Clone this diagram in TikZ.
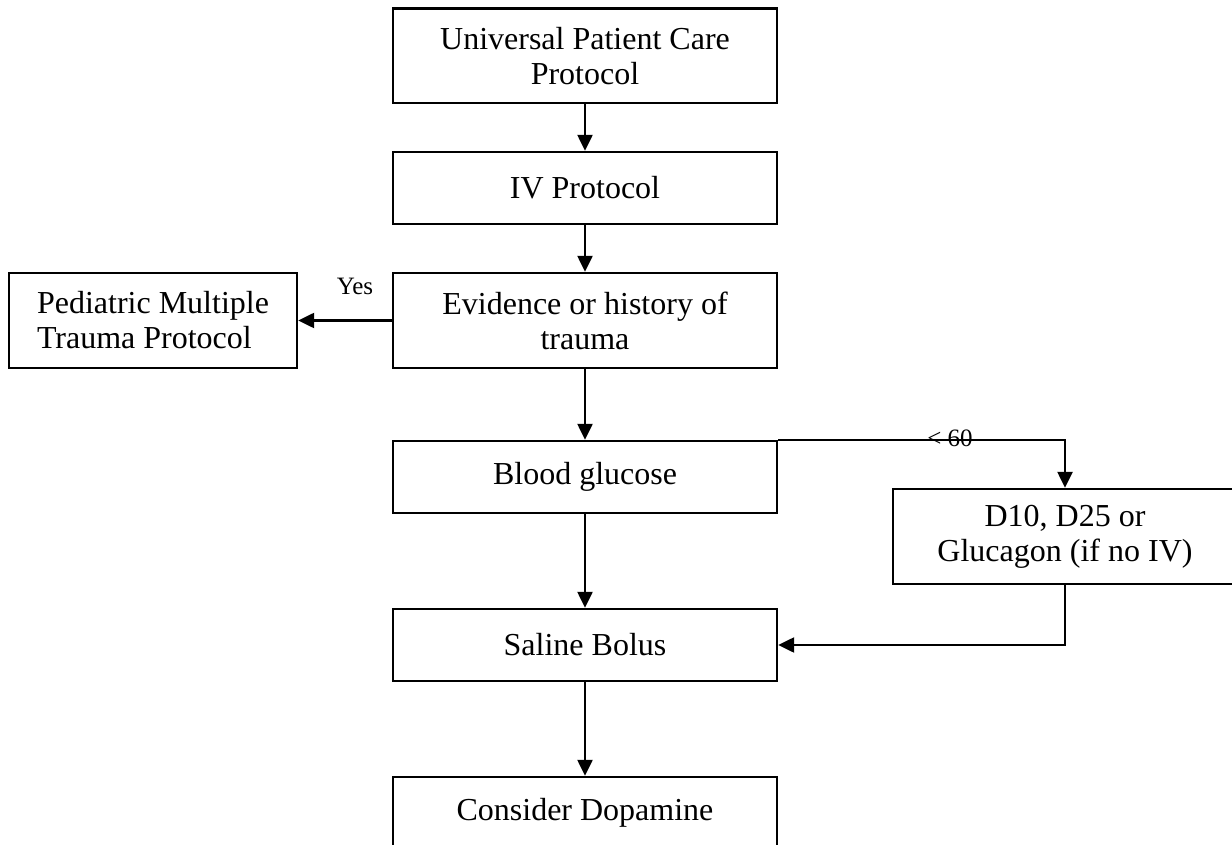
\documentclass[tikz,border=0pt]{standalone}
\usepackage{fontspec}
\setmainfont{Liberation Serif}
\usetikzlibrary{arrows.meta}

\tikzset{
  box/.style={draw, line width=1.2pt, rectangle, inner sep=0pt, align=center,
    font=\fontsize{16}{17.5}\selectfont},
  arr/.style={draw, line width=1.2pt, -{Triangle[length=8pt,width=7.5pt]}},
  lbl/.style={inner sep=0pt, font=\fontsize{12.5}{14}\selectfont}
}

\begin{document}
\begin{tikzpicture}[x=0.5pt, y=-0.5pt]
  \useasboundingbox (0,0) rectangle (1232,845);
  \clip (0,0) rectangle (1232,845);

  % main column
  \node[box, minimum width=192pt, minimum height=47.25pt] (upc) at (585,55.75)
    {Universal Patient Care\\Protocol};
  \node[box, minimum width=192pt, minimum height=36pt] (iv) at (585,188)
    {IV Protocol};
  \node[box, minimum width=192pt, minimum height=47.5pt] (trauma) at (585,320.5)
    {Evidence or history of\\trauma};
  \node[box, minimum width=192pt, minimum height=36pt] (bg) at (585,477)
    {Blood glucose};
  \node[box, minimum width=192pt, minimum height=36pt] (saline) at (585,645)
    {Saline Bolus};
  \node[box, minimum width=192pt, minimum height=36pt] (dopa) at (585,813)
    {Consider Dopamine};

  % side branches
  \node[box, align=left, minimum width=144pt, minimum height=47.5pt] (ped) at (153,320.5)
    {Pediatric Multiple\\Trauma Protocol};
  \node[box, minimum width=172pt, minimum height=47.5pt] (dext) at (1065,536.5)
    {D10, D25 or\\Glucagon (if no IV)};

  % connectors
  \draw[arr] (upc) -- (iv);
  \draw[arr] (iv) -- (trauma);
  \draw[arr] (trauma) -- (ped);
  \draw[arr] (trauma) -- (bg);
  \draw[arr] (bg.north east) -| (dext.north);
  \draw[arr] (bg) -- (saline);
  \draw[arr] (dext.south) |- (saline.east);
  \draw[arr] (saline) -- (dopa);

  % branch labels
  \node[lbl] (yes) at (355,286) {Yes};
  \node[lbl, anchor=base] (low) at (950,446) {< 60};
\end{tikzpicture}
\end{document}
